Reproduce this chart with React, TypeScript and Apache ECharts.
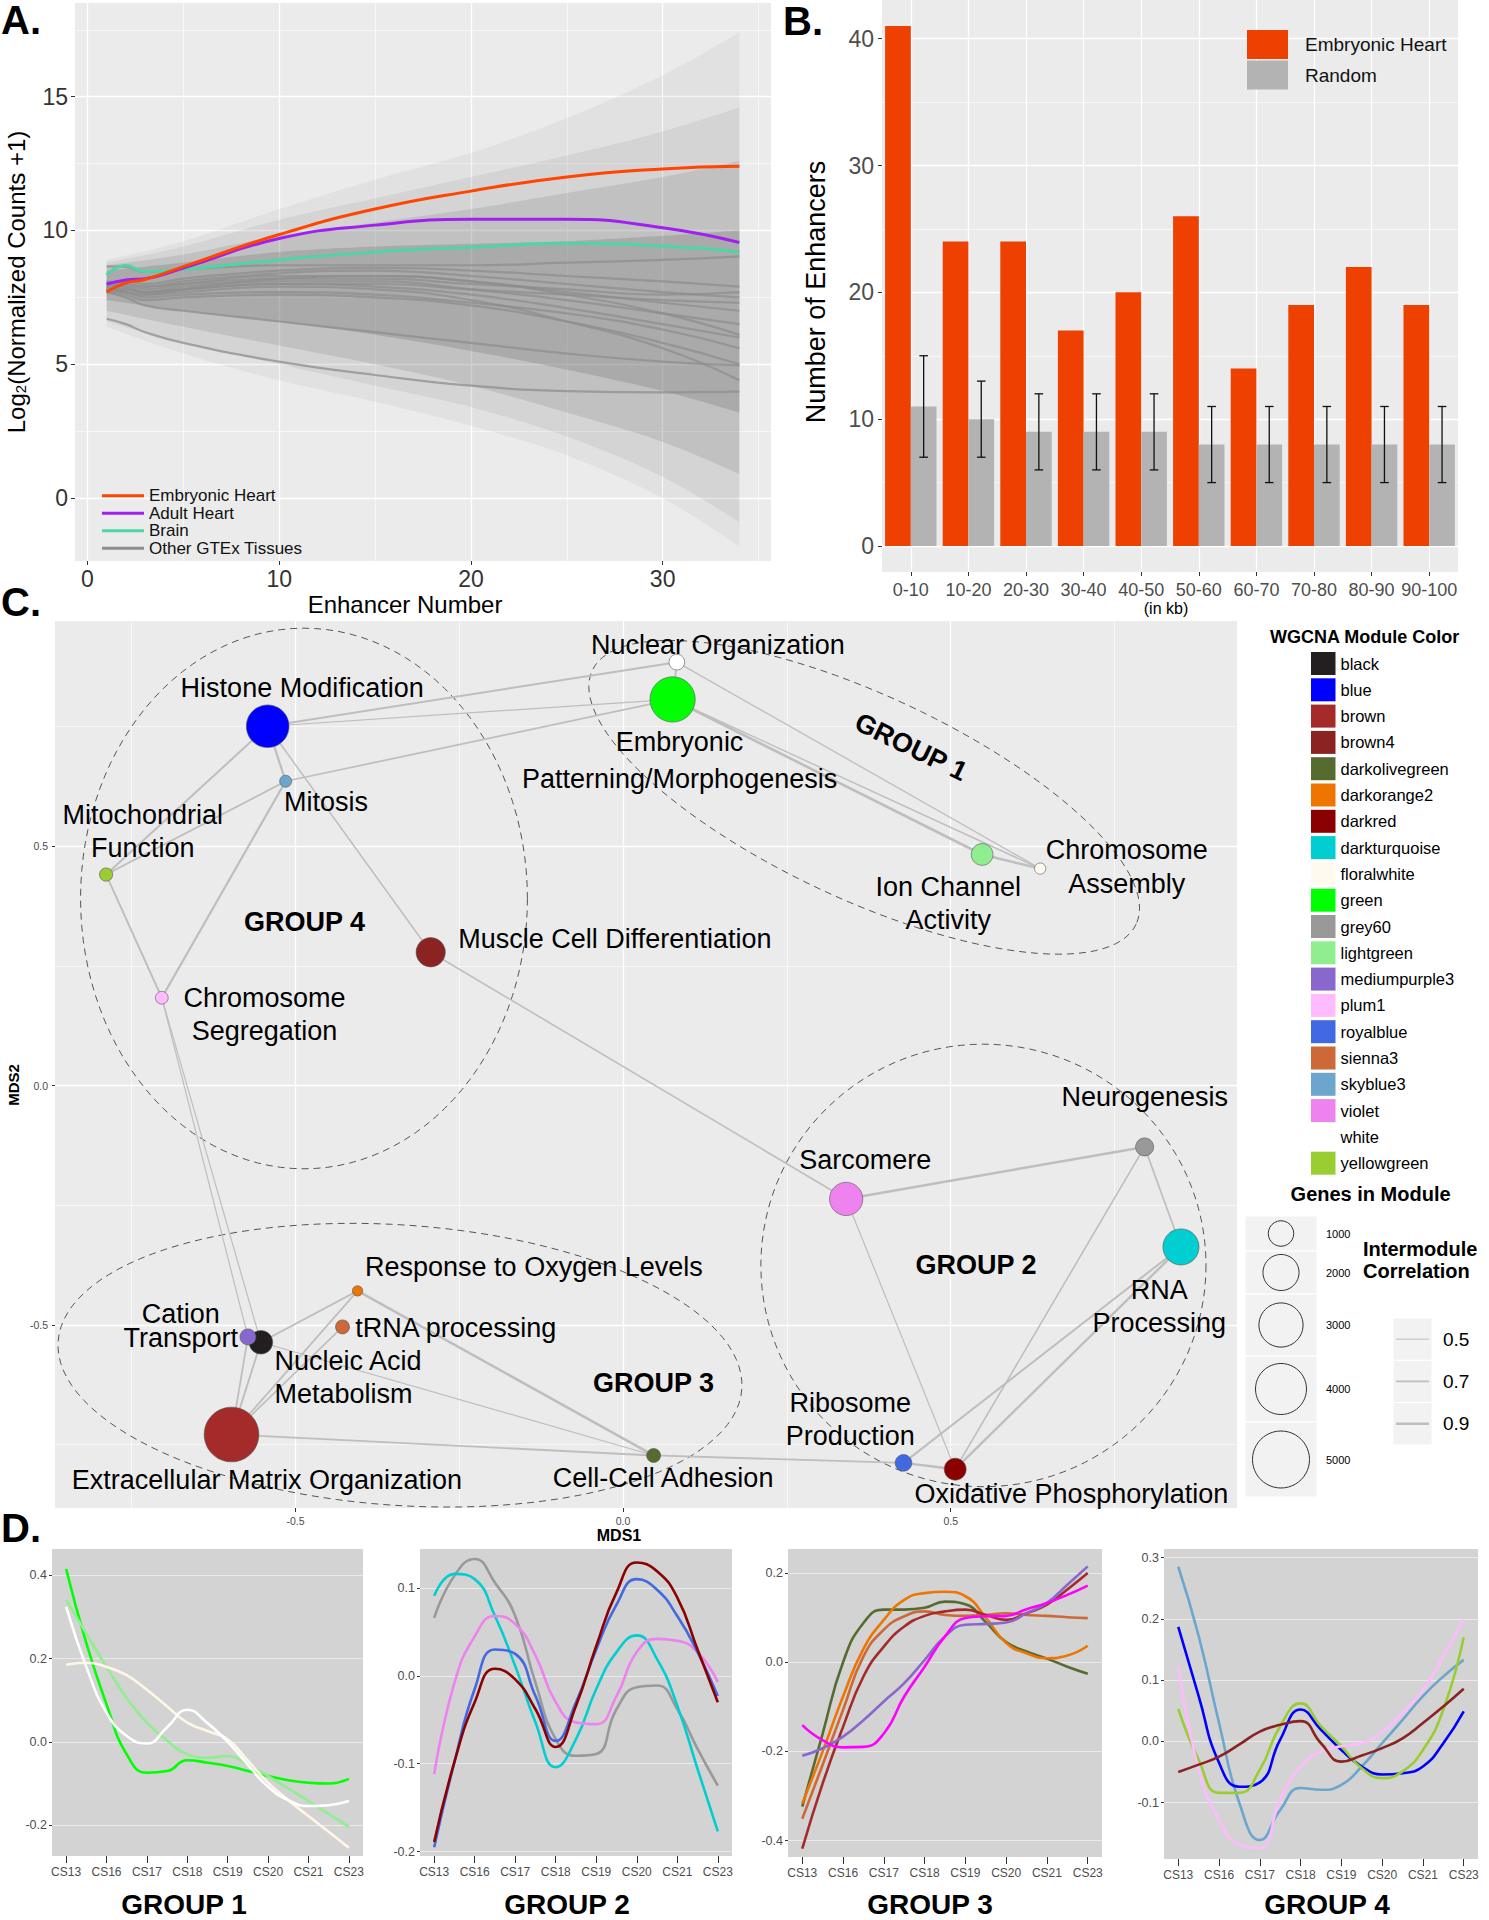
import React, { useEffect, useRef } from 'react';
import * as echarts from 'echarts';

const FONT = "'Liberation Sans', Arial, Helvetica, sans-serif";

// ---------------- Panel A : enhancer expression ----------------
const enhancerNumber = [1, 2, 3, 5, 10, 15, 20, 25, 30, 34];
const embryonicHeartExpr = [7.7, 8.04, 8.17, 8.65, 9.85, 10.8, 11.47, 12.0, 12.3, 12.4];
const adultHeartExpr = [8.0, 8.15, 8.2, 8.6, 9.7, 10.2, 10.42, 10.42, 10.1, 9.55];
const brainExpr = [8.34, 8.69, 8.47, 8.55, 8.9, 9.2, 9.37, 9.52, 9.42, 9.2];
const otherTissueExpr = [
  [8.66, 8.64, 8.45, 8.55, 8.7, 8.7, 8.7, 8.8, 8.9, 9.03],
  [8.0, 8.1, 8.0, 8.2, 8.5, 8.6, 8.5, 8.3, 8.1, 7.9],
  [7.9, 8.0, 7.9, 8.1, 8.4, 8.5, 8.3, 8.0, 7.7, 7.5],
  [7.9, 7.9, 7.8, 8.0, 8.3, 8.3, 8.1, 7.7, 7.3, 7.0],
  [7.8, 7.8, 7.7, 7.9, 8.1, 8.1, 7.8, 7.4, 6.9, 6.5],
  [8.0, 7.9, 7.7, 7.8, 8.0, 7.9, 7.6, 7.1, 6.5, 6.0],
  [7.8, 7.7, 7.5, 7.6, 7.7, 7.6, 7.3, 6.9, 6.3, 5.6],
  [7.7, 7.6, 7.4, 7.5, 7.6, 7.5, 7.2, 6.6, 5.8, 5.0],
  [7.8, 7.7, 7.6, 7.7, 7.9, 7.8, 7.4, 6.6, 5.6, 4.4],
  [7.9, 7.8, 7.7, 7.8, 8.0, 8.0, 7.8, 7.6, 7.4, 7.3],
  [7.7, 7.5, 7.2, 7.0, 6.6, 6.2, 5.8, 5.4, 5.1, 4.96],
  [6.7, 6.5, 6.2, 5.8, 5.1, 4.6, 4.2, 4.0, 3.95, 3.98],
  [8.1, 8.0, 7.9, 8.0, 8.2, 8.2, 8.0, 7.8, 7.6, 7.7],
  [7.8, 7.7, 7.6, 7.8, 8.2, 8.3, 8.1, 7.6, 6.9, 6.1],
];
const ribbonX = [1, 5, 10, 15, 20, 25, 30, 34];
const ribbonUpper = [
  [8.9, 9.6, 10.8, 11.9, 12.9, 14.2, 15.8, 17.4],
  [8.8, 9.4, 10.4, 11.2, 12.0, 12.8, 13.7, 14.6],
  [8.7, 9.1, 9.8, 10.3, 10.8, 11.4, 12.0, 12.6],
  [8.5, 8.8, 9.2, 9.4, 9.5, 9.6, 9.8, 10.0],
];
const ribbonLower = [
  [6.4, 5.4, 4.4, 3.6, 2.7, 1.6, 0.0, -1.8],
  [6.6, 5.8, 5.0, 4.2, 3.4, 2.3, 0.8, -0.9],
  [7.0, 6.4, 5.7, 5.0, 4.2, 3.2, 2.1, 0.9],
  [7.4, 7.0, 6.6, 6.1, 5.5, 4.8, 4.0, 3.2],
];
const aXTicks = [0, 10, 20, 30];
const aYTicks = [0, 5, 10, 15];

// ---------------- Panel B : enhancer counts ----------------
const distanceBins = ['0-10', '10-20', '20-30', '30-40', '40-50', '50-60', '60-70', '70-80', '80-90', '90-100'];
const embryonicCounts = [41, 24, 24, 17, 20, 26, 14, 19, 22, 19];
const randomCounts = [11, 10, 9, 9, 9, 8, 8, 8, 8, 8];
const randomLow = [7, 7, 6, 6, 6, 5, 5, 5, 5, 5];
const randomHigh = [15, 13, 12, 12, 12, 11, 11, 11, 11, 11];
const bYTicks = [0, 10, 20, 30, 40];

// ---------------- Panel C : WGCNA module network ----------------
const moduleNames = ['black', 'blue', 'brown', 'brown4', 'darkolivegreen', 'darkorange2', 'darkred', 'darkturquoise', 'floralwhite', 'green', 'grey60', 'lightgreen', 'mediumpurple3', 'plum1', 'royalblue', 'sienna3', 'skyblue3', 'violet', 'white', 'yellowgreen'];
const moduleColors = ['#231F20', '#0000FF', '#A52A2A', '#8B2323', '#556B2F', '#EE7600', '#8B0000', '#00CED1', '#FFFAF0', '#00FF00', '#999999', '#90EE90', '#8968CD', '#FFBBFF', '#4169E1', '#CD6839', '#6CA6CD', '#EE82EE', '#FFFFFF', '#9ACD32'];
const termNames = ['Nuclear Organization', 'Embryonic Patterning/Morphogenesis', 'Histone Modification', 'Mitosis', 'Mitochondrial Function', 'Chromosome Segregation', 'Muscle Cell Differentiation', 'Ion Channel Activity', 'Chromosome Assembly', 'Sarcomere', 'Neurogenesis', 'RNA Processing', 'Ribosome Production', 'Oxidative Phosphorylation', 'Cell-Cell Adhesion', 'Extracellular Matrix Organization', 'Nucleic Acid Metabolism', 'Cation Transport', 'Response to Oxygen Levels', 'tRNA processing'];
const termLabels = ['Nuclear Organization', 'Embryonic\nPatterning/Morphogenesis', 'Histone Modification', 'Mitosis', 'Mitochondrial\nFunction', 'Chromosome\nSegregation', 'Muscle Cell Differentiation', 'Ion Channel\nActivity', 'Chromosome\nAssembly', 'Sarcomere', 'Neurogenesis', 'RNA\nProcessing', 'Ribosome\nProduction', 'Oxidative Phosphorylation', 'Cell-Cell Adhesion', 'Extracellular Matrix Organization', 'Nucleic Acid\nMetabolism', 'Cation\nTransport', 'Response to Oxygen Levels', 'tRNA processing'];
const termModule = ['white', 'green', 'blue', 'skyblue3', 'yellowgreen', 'plum1', 'brown4', 'lightgreen', 'floralwhite', 'violet', 'grey60', 'darkturquoise', 'royalblue', 'darkred', 'darkolivegreen', 'brown', 'black', 'mediumpurple3', 'darkorange2', 'sienna3'];
const mds1 = [0.0821, 0.0756, -0.5424, -0.515, -0.789, -0.704, -0.2936, 0.548, 0.6366, 0.3405, 0.796, 0.8515, 0.428, 0.5069, 0.0466, -0.5976, -0.5528, -0.5725, -0.4052, -0.4282];
const mds2 = [0.885, 0.807, 0.751, 0.636, 0.441, 0.1835, 0.2786, 0.483, 0.4535, -0.237, -0.1283, -0.3373, -0.7887, -0.8019, -0.7732, -0.7294, -0.5365, -0.5254, -0.4292, -0.5045];
const moduleGenes = [380, 3150, 2800, 220, 270, 250, 1320, 730, 195, 1700, 500, 2000, 430, 745, 300, 4600, 860, 395, 165, 300];
const edgeFrom = [0, 1, 1, 0, 0, 1, 1, 7, 2, 2, 3, 3, 4, 2, 6, 5, 5, 16, 18, 15, 15, 16, 15, 14, 15, 15, 9, 9, 10, 10, 11, 11, 12];
const edgeTo = [2, 2, 3, 1, 8, 7, 8, 8, 3, 4, 4, 5, 5, 6, 9, 17, 16, 18, 14, 19, 18, 14, 14, 12, 17, 16, 10, 13, 11, 13, 12, 13, 13];
const edgeCorr = [0.75, 0.55, 0.68, 0.7, 0.58, 0.9, 0.6, 0.85, 0.8, 0.75, 0.7, 0.82, 0.72, 0.62, 0.65, 0.55, 0.55, 0.7, 0.88, 0.65, 0.68, 0.55, 0.72, 0.7, 0.68, 0.72, 0.88, 0.55, 0.68, 0.65, 0.75, 0.85, 0.85];
const groupNames = ['GROUP 1', 'GROUP 2', 'GROUP 3', 'GROUP 4'];
const ellipseCX = [0.368, 0.55, -0.3405, -0.487];
const ellipseCY = [0.6025, -0.376, -0.5845, 0.391];
const ellipseRX = [0.458, 0.3397, 0.523, 0.341];
const ellipseRY = [0.213, 0.4625, 0.293, 0.565];
const ellipseTilt = [25, 0, 4, 0];
const cTicks = [-0.5, 0, 0.5];
const genesLegend = [1000, 2000, 3000, 4000, 5000];
const corrLegend = [0.5, 0.7, 0.9];

// ---------------- Panel D : module eigengene trajectories ----------------
const stageLabels = ['CS13', 'CS16', 'CS17', 'CS18', 'CS19', 'CS20', 'CS21', 'CS23'];
const stagePos = [1, 1.5, 2, 2.5, 3, 3.5, 4, 4.5, 5, 5.5, 6, 6.5, 7, 7.5, 8];
const g1Green = [0.415, 0.237, 0.09, -0.03, -0.074, -0.07, -0.044, -0.05, -0.058, -0.07, -0.082, -0.092, -0.098, -0.1, -0.089];
const g1LightGreen = [0.341, 0.26, 0.18, 0.105, 0.046, 0.003, -0.03, -0.038, -0.034, -0.055, -0.082, -0.112, -0.142, -0.173, -0.204];
const g1White = [0.324, 0.18, 0.07, 0.014, -0.004, 0.035, 0.077, 0.045, 0.0, -0.055, -0.108, -0.14, -0.154, -0.152, -0.142];
const g1FloralWhite = [0.185, 0.19, 0.18, 0.16, 0.125, 0.085, 0.046, 0.026, 0.006, -0.045, -0.098, -0.14, -0.178, -0.216, -0.254];
const g2Grey60 = [0.066, 0.114, 0.133, 0.106, 0.068, -0.008, -0.072, -0.091, -0.089, -0.038, -0.013, -0.011, -0.038, -0.083, -0.125];
const g2Turquoise = [0.091, 0.116, 0.11, 0.068, 0.011, -0.053, -0.104, -0.072, -0.015, 0.027, 0.046, 0.019, -0.034, -0.106, -0.177];
const g2Violet = [-0.112, -0.008, 0.045, 0.068, 0.059, 0.023, -0.03, -0.053, -0.055, -0.023, 0.027, 0.042, 0.04, 0.027, -0.007];
const g2RoyalBlue = [-0.195, -0.098, -0.015, 0.03, 0.025, -0.023, -0.074, -0.03, 0.03, 0.081, 0.11, 0.098, 0.068, 0.027, -0.023];
const g2DarkRed = [-0.189, -0.098, -0.03, 0.008, -0.004, -0.038, -0.081, -0.034, 0.034, 0.095, 0.129, 0.119, 0.089, 0.03, -0.03];
const g3Olive = [-0.324, -0.16, 0.0, 0.088, 0.118, 0.118, 0.122, 0.136, 0.13, 0.09, 0.045, 0.024, 0.008, -0.01, -0.026];
const g3Orange = [-0.317, -0.2, -0.077, 0.03, 0.095, 0.14, 0.155, 0.158, 0.148, 0.1, 0.043, 0.02, 0.009, 0.015, 0.037];
const g3Sienna = [-0.351, -0.23, -0.107, 0.013, 0.073, 0.103, 0.114, 0.106, 0.104, 0.106, 0.11, 0.106, 0.104, 0.101, 0.099];
const g3Brown = [-0.418, -0.272, -0.145, -0.032, 0.035, 0.08, 0.104, 0.114, 0.118, 0.106, 0.095, 0.11, 0.129, 0.163, 0.2];
const g3Purple = [-0.21, -0.193, -0.167, -0.13, -0.088, -0.047, 0.005, 0.058, 0.084, 0.086, 0.089, 0.11, 0.133, 0.174, 0.215];
const g3Magenta = [-0.141, -0.175, -0.191, -0.19, -0.16, -0.077, -0.01, 0.058, 0.099, 0.103, 0.104, 0.119, 0.133, 0.151, 0.172];
const g4SkyBlue = [0.285, 0.172, 0.03, -0.101, -0.161, -0.112, -0.076, -0.079, -0.071, -0.041, -0.003, 0.035, 0.074, 0.106, 0.133];
const g4Blue = [0.187, 0.074, -0.035, -0.074, -0.067, 0.003, 0.052, 0.019, -0.014, -0.041, -0.054, -0.052, -0.041, -0.003, 0.049];
const g4YellowGreen = [0.053, -0.03, -0.084, -0.084, -0.046, 0.025, 0.062, 0.025, -0.008, -0.044, -0.06, -0.049, -0.014, 0.052, 0.17];
const g4Plum = [0.123, -0.046, -0.128, -0.169, -0.174, -0.095, -0.041, -0.016, -0.008, -0.003, 0.016, 0.046, 0.084, 0.139, 0.199];
const g4Brown4 = [-0.05, -0.038, -0.025, -0.005, 0.016, 0.027, 0.033, -0.003, -0.033, -0.023, -0.011, 0.005, 0.03, 0.057, 0.086];
const d1YTicks = [-0.2, 0, 0.2, 0.4];
const d2YTicks = [-0.2, -0.1, 0, 0.1];
const d3YTicks = [-0.4, -0.2, 0, 0.2];
const d4YTicks = [-0.1, 0, 0.1, 0.2, 0.3];

// ---------------- styling helpers ----------------
const BAR_W = 25.7;
const nodeSize = (g: number) => 25.5 * Math.sqrt(g / 1000);
const corrWidth = (c: number) => 1 + (c - 0.5) * 4;
const ribbonOpacity = [0.08, 0.12, 0.2, 0.3];

// label placement for network nodes: [dx, dy, align, lineHeight]
const labelPlacement: any[] = [
  [41, -17, 'center', 33], [7, 61, 'center', 37], [34.5, -38, 'center', 33], [40.3, 21, 'center', 33],
  [36.7, -43.3, 'center', 33], [102.7, 16.6, 'center', 33], [27.6, -13, 'left', 33], [-33.8, 48.8, 'center', 32.5],
  [86.5, -1.6, 'center', 33.3], [19, -38.7, 'center', 33], [0.2, -50, 'center', 33], [-21.7, 59.3, 'center', 33.4],
  [-53.3, -43.7, 'center', 33], [116.2, 25.3, 'center', 33], [9.5, 23, 'center', 33], [35.4, 45, 'center', 33],
  [13.6, 35, 'left', 32.6], [-67.3, -10.9, 'center', 24], [176.3, -24, 'center', 33], [12.7, 1, 'left', 33],
];

// Catmull-Rom interpolation of pixel points (for smooth ribbon outlines)
function smoothPath(pts: number[][]) {
  const out: number[][] = [];
  const n = pts.length;
  for (let i = 0; i < n - 1; i++) {
    const p0 = pts[Math.max(i - 1, 0)], p1 = pts[i], p2 = pts[i + 1], p3 = pts[Math.min(i + 2, n - 1)];
    for (let s = 0; s < 14; s++) {
      const t = s / 14, t2 = t * t, t3 = t2 * t;
      const f = (k: number) => 0.5 * (2 * p1[k] + (-p0[k] + p2[k]) * t + (2 * p0[k] - 5 * p1[k] + 4 * p2[k] - p3[k]) * t2 + (-p0[k] + 3 * p1[k] - 3 * p2[k] + p3[k]) * t3);
      out.push([f(0), f(1)]);
    }
  }
  out.push(pts[n - 1]);
  return out;
}

function valueAxis(gridIndex: number, min: number, max: number, ticks: number[], fmt: any, fontSize: number, color: string, margin: number, tickLen: number) {
  return {
    type: 'value', gridIndex, min, max,
    axisLine: { show: false, onZero: false },
    splitLine: { show: false },
    minorSplitLine: { show: false },
    axisTick: { show: true, customValues: ticks, length: tickLen, lineStyle: { color: '#333', width: 1 } },
    axisLabel: { show: true, customValues: ticks, formatter: fmt, fontSize, color, margin, fontFamily: FONT },
  };
}

function gridLines(xi: number, anchor: any[], xs: any[], ys: any[], color: string) {
  const data: any[] = [];
  xs.forEach(([v, w]) => data.push({ xAxis: v, lineStyle: { width: w, color, type: 'solid' } }));
  ys.forEach(([v, w]) => data.push({ yAxis: v, lineStyle: { width: w, color, type: 'solid' } }));
  return {
    type: 'scatter', name: 'grid' + xi, xAxisIndex: xi, yAxisIndex: xi, data: [anchor], symbolSize: 0,
    silent: true, z: 1,
    markLine: { silent: true, z: 1, symbol: ['none', 'none'], label: { show: false }, emphasis: { disabled: true }, animation: false, data },
  };
}

function txt(text: string, x: number, y: number, size: number, o: any = {}) {
  return {
    type: 'text', x, y, rotation: o.rot || 0, z: 100, silent: true,
    style: {
      text, fill: o.color || '#000', fontSize: size, fontWeight: o.bold ? 'bold' : 'normal', fontFamily: FONT,
      align: o.align || 'center', verticalAlign: 'middle', textAlign: o.align || 'center', textVerticalAlign: 'middle',
      rich: o.rich,
    },
  };
}

function buildOption() {
  const series: any[] = [];
  const major = 1.3, minor = 0.6;
  const one = (v: number) => (v === 0 ? '0.0' : v.toFixed(1));

  // ----- grid lines -----
  series.push(gridLines(0, [1, 8], aXTicks.map((v) => [v, major]).concat([5, 15, 25, 35].map((v) => [v, minor])), aYTicks.map((v) => [v, major]).concat([2.5, 7.5, 12.5, 17.5].map((v) => [v, minor])), '#FFFFFF'));
  series.push(gridLines(1, ['0-10', 0], distanceBins.map((v) => [v, major]), bYTicks.map((v) => [v, major]).concat([5, 15, 25, 35].map((v) => [v, minor])), '#FFFFFF'));
  series.push(gridLines(2, [0, 0], cTicks.map((v) => [v, major]).concat([-0.75, -0.25, 0.25, 0.75].map((v) => [v, minor])), cTicks.map((v) => [v, major]).concat([-0.75, -0.25, 0.25, 0.75].map((v) => [v, minor])), '#FFFFFF'));
  [d1YTicks, d2YTicks, d3YTicks, d4YTicks].forEach((t, k) => {
    series.push(gridLines(3 + k, [1, 0], [], t.map((v) => [v, 0.9]), '#ECECEC'));
  });

  // ----- Panel A -----
  series.push({
    type: 'custom', name: 'ribbons', xAxisIndex: 0, yAxisIndex: 0, silent: true, z: 2,
    data: ribbonUpper.map((_, b) => [b, ribbonX[0], ribbonLower[b][0]]),
    encode: { x: 1, y: 2 },
    renderItem: (p: any, api: any) => {
      const b = api.value(0);
      const up = ribbonX.map((x, i) => api.coord([x, ribbonUpper[b][i]]));
      const lo = ribbonX.map((x, i) => api.coord([x, ribbonLower[b][i]]));
      const pts = smoothPath(up).concat(smoothPath(lo).reverse());
      return { type: 'polygon', shape: { points: pts }, style: { fill: 'rgba(120,120,120,' + ribbonOpacity[b] + ')', stroke: 'none' } };
    },
  });
  otherTissueExpr.forEach((vals) => {
    series.push({ type: 'line', name: 'Other GTEx Tissues', xAxisIndex: 0, yAxisIndex: 0, data: enhancerNumber.map((x, i) => [x, vals[i]]), symbol: 'none', smooth: true, color: '#8E8E8E', lineStyle: { width: 2.2, color: '#8E8E8E', opacity: 0.75 }, silent: true, z: 3 });
  });
  const aLines: any[] = [['Brain', brainExpr, '#4ED4A6'], ['Adult Heart', adultHeartExpr, '#A020F0'], ['Embryonic Heart', embryonicHeartExpr, '#FF4500']];
  aLines.forEach(([name, vals, color]) => {
    series.push({ type: 'line', name, xAxisIndex: 0, yAxisIndex: 0, data: enhancerNumber.map((x, i) => [x, vals[i]]), symbol: 'none', smooth: true, color, lineStyle: { width: 3, color }, silent: true, z: 4 });
  });

  // ----- Panel B -----
  series.push({ type: 'bar', name: 'Embryonic Heart (B)', xAxisIndex: 1, yAxisIndex: 1, data: embryonicCounts, barWidth: BAR_W, barGap: '0%', color: '#EE4000', itemStyle: { color: '#EE4000' }, silent: true, z: 2 });
  series.push({ type: 'bar', name: 'Random', xAxisIndex: 1, yAxisIndex: 1, data: randomCounts, barWidth: BAR_W, barGap: '0%', color: '#B3B3B3', itemStyle: { color: '#B3B3B3' }, silent: true, z: 2 });
  series.push({
    type: 'custom', name: 'errors', xAxisIndex: 1, yAxisIndex: 1, silent: true, z: 5,
    data: randomLow.map((l, i) => [i, l, randomHigh[i]]),
    encode: { x: 0, y: [1, 2] },
    renderItem: (p: any, api: any) => {
      const lo = api.coord([api.value(0), api.value(1)]);
      const hi = api.coord([api.value(0), api.value(2)]);
      const x = lo[0] + BAR_W / 2;
      const w = 4.3;
      const st = { stroke: '#111', lineWidth: 1.3 };
      return {
        type: 'group', children: [
          { type: 'line', shape: { x1: x, y1: lo[1], x2: x, y2: hi[1] }, style: st },
          { type: 'line', shape: { x1: x - w, y1: hi[1], x2: x + w, y2: hi[1] }, style: st },
          { type: 'line', shape: { x1: x - w, y1: lo[1], x2: x + w, y2: lo[1] }, style: st },
        ],
      };
    },
  });

  // ----- Panel C -----
  series.push({
    type: 'custom', name: 'groupEllipses', xAxisIndex: 2, yAxisIndex: 2, silent: true, z: 2,
    data: ellipseCX.map((cx, i) => [cx, ellipseCY[i], ellipseRX[i], ellipseRY[i], ellipseTilt[i]]),
    encode: { x: 0, y: 1 },
    renderItem: (p: any, api: any) => {
      const c = api.coord([api.value(0), api.value(1)]);
      const sx = api.size([1, 0])[0];
      const sy = api.size([0, 1])[1];
      const a = api.value(2) * sx;
      const b = api.value(3) * sy;
      const th = (api.value(4) * Math.PI) / 180;
      const pts: any[] = [];
      for (let k = 0; k <= 120; k++) {
        const t = (k / 120) * Math.PI * 2;
        const px = a * Math.cos(t);
        const py = b * Math.sin(t);
        pts.push([c[0] + px * Math.cos(th) - py * Math.sin(th), c[1] + px * Math.sin(th) + py * Math.cos(th)]);
      }
      return { type: 'polyline', shape: { points: pts }, style: { fill: 'none', stroke: '#555', lineWidth: 1, lineDash: [7, 5] } };
    },
  });
  series.push({
    type: 'graph', name: 'modules', coordinateSystem: 'cartesian2d', xAxisIndex: 2, yAxisIndex: 2,
    layout: 'none', roam: false, silent: true, z: 3,
    categories: moduleNames.map((m, i) => ({ name: m, itemStyle: { color: moduleColors[i] } })),
    data: termNames.map((t, i) => {
      const [dx, dy, align, lh] = labelPlacement[i];
      return {
        name: t, value: [mds1[i], mds2[i]], category: moduleNames.indexOf(termModule[i]), symbolSize: nodeSize(moduleGenes[i]),
        label: { show: true, formatter: termLabels[i], position: 'inside', offset: [dx, dy], align, verticalAlign: 'middle', lineHeight: lh },
      };
    }),
    links: edgeFrom.map((s, k) => ({ source: s, target: edgeTo[k], lineStyle: { width: corrWidth(edgeCorr[k]) } })),
    itemStyle: { borderColor: '#555', borderWidth: 0.6 },
    lineStyle: { color: '#BEBEBE', opacity: 1, curveness: 0 },
    label: { show: true, color: '#000', fontSize: 27, fontFamily: FONT },
    emphasis: { disabled: true },
  });

  // ----- Panel D -----
  const dGroups: any[] = [
    [['green', g1Green, '#00FF00'], ['lightgreen', g1LightGreen, '#90EE90'], ['floralwhite', g1FloralWhite, '#FFF6E6'], ['white', g1White, '#FFFFFF']],
    [['grey60', g2Grey60, '#999999'], ['darkturquoise', g2Turquoise, '#00CED1'], ['violet', g2Violet, '#EE82EE'], ['royalblue', g2RoyalBlue, '#4169E1'], ['darkred', g2DarkRed, '#8B0000']],
    [['darkolivegreen', g3Olive, '#556B2F'], ['darkorange2', g3Orange, '#EE7600'], ['sienna3', g3Sienna, '#CD6839'], ['brown', g3Brown, '#A52A2A'], ['mediumpurple3', g3Purple, '#8968CD'], ['magenta', g3Magenta, '#FF00FF']],
    [['skyblue3', g4SkyBlue, '#6CA6CD'], ['blue', g4Blue, '#0000FF'], ['yellowgreen', g4YellowGreen, '#9ACD32'], ['plum1', g4Plum, '#FFBBFF'], ['brown4', g4Brown4, '#8B2323']],
  ];
  dGroups.forEach((grp, k) => {
    grp.forEach(([name, vals, color]: any) => {
      series.push({ type: 'line', name: 'D' + (k + 1) + '-' + name, xAxisIndex: 3 + k, yAxisIndex: 3 + k, data: stagePos.map((x, i) => [x, vals[i]]), symbol: 'none', smooth: true, color, lineStyle: { width: 2.6, color }, silent: true, z: 3 });
    });
  });

  // ----- grids -----
  const gridBoxes = [
    { left: 75, top: 3, width: 696, height: 558 },
    { left: 882, top: 0, width: 576, height: 572 },
    { left: 55, top: 621, width: 1182, height: 887 },
    { left: 52, top: 1549, width: 311, height: 307 },
    { left: 420, top: 1549, width: 312, height: 307 },
    { left: 788, top: 1549, width: 314, height: 308 },
    { left: 1164, top: 1549, width: 314, height: 310 },
  ];
  const grid = gridBoxes.map((g, i) => ({ ...g, show: true, backgroundColor: i >= 3 ? '#D3D3D3' : '#EBEBEB', borderWidth: 0, containLabel: false, outerBoundsMode: 'none' }));

  const stageFmt = (v: number) => stageLabels[Math.round(v) - 1] || '';
  const xAxis: any[] = [
    valueAxis(0, -0.65, 35.65, aXTicks, (v: number) => String(v), 23, '#333', 6, 4),
    {
      type: 'category', gridIndex: 1, data: distanceBins,
      axisLine: { show: false, onZero: false }, splitLine: { show: false },
      axisTick: { show: true, alignWithLabel: true, length: 4, lineStyle: { color: '#333' } },
      axisLabel: { interval: 0, fontSize: 18, color: '#4D4D4D', margin: 9, fontFamily: FONT },
    },
    valueAxis(2, -0.867, 0.937, cTicks, one, 10.5, '#4D4D4D', 7, 4),
    valueAxis(3, 0.65, 8.35, [1, 2, 3, 4, 5, 6, 7, 8], stageFmt, 12, '#4D4D4D', 10, 7),
    valueAxis(4, 0.65, 8.35, [1, 2, 3, 4, 5, 6, 7, 8], stageFmt, 12, '#4D4D4D', 10, 7),
    valueAxis(5, 0.65, 8.35, [1, 2, 3, 4, 5, 6, 7, 8], stageFmt, 12, '#4D4D4D', 10, 7),
    valueAxis(6, 0.65, 8.35, [1, 2, 3, 4, 5, 6, 7, 8], stageFmt, 12, '#4D4D4D', 10, 7),
  ];
  const yAxis: any[] = [
    valueAxis(0, -2.35, 18.5, aYTicks, (v: number) => String(v), 23, '#333', 7, 4),
    valueAxis(1, -2.05, 43.05, bYTicks, (v: number) => String(v), 23, '#4D4D4D', 8, 4),
    valueAxis(2, -0.883, 0.971, cTicks, one, 10.5, '#4D4D4D', 7, 3),
    valueAxis(3, -0.274, 0.463, d1YTicks, one, 12.5, '#4D4D4D', 5, 3),
    valueAxis(4, -0.205, 0.1443, d2YTicks, one, 12.5, '#4D4D4D', 5, 3),
    valueAxis(5, -0.437, 0.254, d3YTicks, one, 12.5, '#4D4D4D', 5, 3),
    valueAxis(6, -0.192, 0.314, d4YTicks, one, 12.5, '#4D4D4D', 5, 3),
  ];

  const legend: any[] = [
    {
      data: ['Embryonic Heart', 'Adult Heart', 'Brain', 'Other GTEx Tissues'], orient: 'vertical', left: 102, top: 487,
      padding: 0, itemWidth: 42, itemHeight: 3, itemGap: 0, icon: 'rect', selectedMode: false,
      textStyle: { fontSize: 17, lineHeight: 17.5, color: '#111', fontFamily: FONT },
    },
    {
      data: ['Embryonic Heart (B)', 'Random'], formatter: (n: string) => n.replace(' (B)', ''), orient: 'vertical', left: 1247, top: 30,
      padding: 0, itemWidth: 41, itemHeight: 29, itemGap: 1.5, icon: 'rect', selectedMode: false,
      textStyle: { fontSize: 19, color: '#111', fontFamily: FONT, padding: [0, 0, 0, 12] },
    },
    {
      data: moduleNames, orient: 'vertical', left: 1311, top: 652,
      padding: 0, itemWidth: 24.5, itemHeight: 23, itemGap: 3.3, icon: 'rect', selectedMode: false,
      itemStyle: { borderWidth: 0 },
      textStyle: { fontSize: 16.5, color: '#000', fontFamily: FONT },
    },
  ];

  // ----- graphic texts & legends -----
  const els: any[] = [];
  els.push(txt('A.', 1, 20, 40, { bold: true, align: 'left' }));
  els.push(txt('B.', 783, 21, 40, { bold: true, align: 'left' }));
  els.push(txt('C.', 1, 602, 40, { bold: true, align: 'left' }));
  els.push(txt('D.', 1, 1528, 40, { bold: true, align: 'left' }));
  els.push(txt('Log{s|2}(Normalized Counts +1)', 16, 282, 24, { rot: Math.PI / 2, rich: { s: { fontSize: 15, verticalAlign: 'bottom', lineHeight: 14, fontFamily: FONT } } }));
  els.push(txt('Enhancer Number', 405, 604, 24));
  els.push(txt('Number of Enhancers', 816, 292, 27, { rot: Math.PI / 2 }));
  els.push(txt('(in kb)', 1166, 608, 16));
  els.push(txt('MDS2', 13, 1085, 15, { bold: true, rot: Math.PI / 2 }));
  els.push(txt('MDS1', 619, 1535, 16, { bold: true }));
  // group names inside panel C
  els.push(txt(groupNames[0], 911, 747, 27, { bold: true, rot: (-26 * Math.PI) / 180 }));
  els.push(txt(groupNames[1], 976, 1265, 27, { bold: true }));
  els.push(txt(groupNames[2], 653.5, 1383, 27, { bold: true }));
  els.push(txt(groupNames[3], 304.5, 922, 27, { bold: true }));
  // panel D titles
  [184, 567, 930, 1327].forEach((x, i) => els.push(txt(groupNames[i], x, 1904, 28, { bold: true })));
  // legend titles for panel C
  els.push(txt('WGCNA Module Color', 1364.6, 636.5, 18, { bold: true }));
  els.push(txt('Genes in Module', 1370.6, 1194, 20, { bold: true }));
  els.push(txt('Intermodule', 1363, 1249, 20, { bold: true, align: 'left' }));
  els.push(txt('Correlation', 1363, 1271, 20, { bold: true, align: 'left' }));
  // size legend
  const genesRowH = [35, 43, 62, 66, 75];
  let yy = 1216;
  genesLegend.forEach((g, i) => {
    const h = genesRowH[i];
    const cy = yy + h / 2;
    els.push({ type: 'rect', z: 90, silent: true, shape: { x: 1245, y: yy, width: 72, height: h }, style: { fill: '#F2F2F2', stroke: '#FFFFFF', lineWidth: 1 } });
    els.push({ type: 'circle', z: 91, silent: true, shape: { cx: 1281, cy, r: nodeSize(g) / 2 }, style: { fill: 'none', stroke: '#333', lineWidth: 1 } });
    els.push(txt(String(g), 1326, cy, 11, { align: 'left' }));
    yy += h;
  });
  // correlation legend
  corrLegend.forEach((c, i) => {
    const top = 1318 + i * 42.3;
    const cy = top + 21.15;
    els.push({ type: 'rect', z: 90, silent: true, shape: { x: 1393, y: top, width: 39, height: 42.3 }, style: { fill: '#F2F2F2', stroke: '#FFFFFF', lineWidth: 1 } });
    els.push({ type: 'line', z: 91, silent: true, shape: { x1: 1396, y1: cy, x2: 1429, y2: cy }, style: { stroke: '#BEBEBE', lineWidth: corrWidth(c) } });
    els.push(txt(c.toFixed(1), 1443, cy, 19, { align: 'left' }));
  });

  return {
    animation: false,
    backgroundColor: '#FFFFFF',
    textStyle: { fontFamily: FONT },
    grid, xAxis, yAxis, legend, series,
    graphic: { elements: els },
  };
}

export default function App() {
  const ref = useRef<HTMLDivElement>(null);
  useEffect(() => {
    const chart = echarts.init(ref.current as HTMLDivElement, null, { renderer: 'svg' });
    chart.setOption(buildOption() as any);
    return () => chart.dispose();
  }, []);
  return <div ref={ref} style={{ position: 'absolute', left: 0, top: 0, width: 1489, height: 1920, background: '#fff' }} />;
}
